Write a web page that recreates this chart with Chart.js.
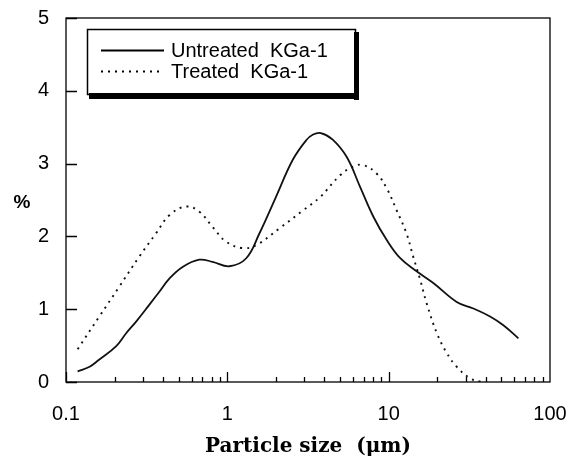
<!DOCTYPE html>
<html>
<head>
<meta charset="utf-8">
<script src="https://cdn.jsdelivr.net/npm/chart.js@4/dist/chart.umd.min.js"></script>
<style>
  html, body { margin: 0; padding: 0; background: #fff; }
  #wrap { width: 574px; height: 459px; }
</style>
</head>
<body>
<div id="wrap"><canvas id="psd" width="574" height="459"></canvas></div>
<script>
// particle size (um) and percentage
const untreatedSize = [0.118, 0.140, 0.161, 0.204, 0.236, 0.272, 0.328, 0.379, 0.437, 0.528, 0.67, 0.81, 1.03, 1.31, 1.58, 2.0, 2.54, 3.08, 3.4, 3.8, 4.5, 5.5, 6.65, 8.04, 9.73, 11.8, 14.9, 18.9, 26.4, 33.5, 42.5, 51.4, 63.7];
const untreatedPct  = [0.145, 0.21, 0.31, 0.49, 0.67, 0.83, 1.06, 1.24, 1.42, 1.58, 1.68, 1.65, 1.59, 1.70, 2.04, 2.54, 3.05, 3.32, 3.40, 3.42, 3.33, 3.09, 2.68, 2.27, 1.95, 1.70, 1.52, 1.36, 1.10, 1.01, 0.90, 0.78, 0.60];

const treatedSize = [0.118, 0.161, 0.214, 0.284, 0.361, 0.437, 0.554, 0.67, 0.81, 0.98, 1.24, 1.51, 2.10, 2.96, 3.76, 5.0, 6.04, 6.97, 8.44, 9.73, 11.2, 12.9, 14.2, 15.7, 17.2, 19.9, 22.9, 26.4, 32.0, 37.8];
const treatedPct  = [0.45, 0.90, 1.31, 1.72, 2.04, 2.29, 2.41, 2.34, 2.13, 1.93, 1.84, 1.88, 2.11, 2.36, 2.54, 2.84, 2.96, 2.98, 2.86, 2.66, 2.36, 2.04, 1.72, 1.40, 1.08, 0.67, 0.40, 0.21, 0.05, 0.0];

const xTickValues = [0.1, 1, 10, 100];
const xTickLabels = ["0.1", "1", "10", "100"];
const yTickValues = [0, 1, 2, 3, 4, 5];

const seriesNames = ["Untreated  KGa-1", "Treated  KGa-1"];

const sans = "'Liberation Sans', Arial, sans-serif";

function toPoints(xs, ys) {
  return xs.map((x, i) => ({ x: x, y: ys[i] }));
}

// frame, inward ticks, "%" label and the boxed legend
const decorPlugin = {
  id: "decor",
  afterDatasetsDraw(chart) {
    const ctx = chart.ctx;
    const a = chart.chartArea;
    const xs = chart.scales.x, ys = chart.scales.y;
    ctx.save();
    ctx.strokeStyle = "#000";
    ctx.lineWidth = 1.3;
    ctx.strokeRect(a.left, a.top, a.right - a.left, a.bottom - a.top);

    // y ticks
    ctx.beginPath();
    yTickValues.forEach(v => {
      const py = Math.round(ys.getPixelForValue(v)) + 0.5;
      ctx.moveTo(a.left, py);
      ctx.lineTo(a.left + 11, py);
    });
    // x ticks: long at decades, short in between
    for (let d = -1; d <= 1; d++) {
      for (let m = 1; m <= 9; m++) {
        const v = m * Math.pow(10, d);
        const px = Math.round(xs.getPixelForValue(v)) + 0.5;
        const len = m === 1 ? 10 : 5;
        ctx.moveTo(px, a.bottom);
        ctx.lineTo(px, a.bottom - len);
      }
    }
    ctx.stroke();

    // "%" axis label
    ctx.fillStyle = "#000";
    ctx.font = "bold 19px " + sans;
    ctx.textAlign = "center";
    ctx.textBaseline = "middle";
    ctx.fillText("%", 22, ys.getPixelForValue(2.46));

    // legend box with drop shadow
    const bx = 87, by = 29, bw = 268, bh = 65;
    ctx.fillStyle = "#fff";
    ctx.fillRect(bx, by, bw, bh);
    ctx.fillStyle = "#000";
    ctx.fillRect(bx + bw - 1, by + 3, 5, bh + 3);
    ctx.fillRect(bx + 2, by + bh - 1, bw + 2, 6);
    ctx.lineWidth = 1.5;
    ctx.strokeRect(bx + 0.5, by + 0.5, bw, bh);

    ctx.font = "20px " + sans;
    ctx.textAlign = "left";
    const rows = [50.5, 71.5];
    chart.data.datasets.forEach((ds, i) => {
      const ly = rows[i];
      ctx.beginPath();
      ctx.lineWidth = ds.borderWidth;
      ctx.setLineDash(ds.borderDash || []);
      ctx.moveTo(101, ly);
      ctx.lineTo(164, ly);
      ctx.stroke();
      ctx.setLineDash([]);
      ctx.fillText(ds.label, 171, ly + 1);
    });
    ctx.restore();
  }
};

const ctx = document.getElementById("psd").getContext("2d");

new Chart(ctx, {
  type: "line",
  data: {
    datasets: [
      {
        label: seriesNames[0],
        data: toPoints(untreatedSize, untreatedPct),
        borderColor: "#111",
        borderWidth: 1.8,
        pointRadius: 0,
        tension: 0.4,
        fill: false
      },
      {
        label: seriesNames[1],
        data: toPoints(treatedSize, treatedPct),
        borderColor: "#111",
        borderWidth: 1.9,
        borderDash: [2, 5],
        pointRadius: 0,
        tension: 0.4,
        fill: false
      }
    ]
  },
  options: {
    responsive: false,
    animation: false,
    layout: { padding: { top: 18, right: 24, left: 0, bottom: 0 } },
    plugins: {
      legend: { display: false },
      tooltip: { enabled: false }
    },
    scales: {
      x: {
        type: "logarithmic",
        min: 0.1,
        max: 100,
        afterBuildTicks: s => { s.ticks = xTickValues.map(v => ({ value: v })); },
        afterFit: s => {
          s.height = 77;
          s.paddingLeft = 0; s.paddingRight = 0;
        },
        grid: { display: false, drawTicks: false },
        border: { display: false },
        ticks: {
          padding: 20,
          color: "#000",
          font: { family: sans, size: 20 },
          maxRotation: 0,
          autoSkip: false,
          callback: (v) => {
            const i = xTickValues.indexOf(v);
            return i >= 0 ? xTickLabels[i] : "";
          }
        },
        title: {
          display: true,
          text: "Particle size  (\u03bcm)",
          color: "#000",
          font: { family: "'DejaVu Serif', serif", size: 20, weight: "bold", lineHeight: 1.2 },
          padding: { top: 0, bottom: 0 }
        }
      },
      y: {
        min: 0,
        max: 5,
        afterBuildTicks: s => { s.ticks = yTickValues.map(v => ({ value: v })); },
        afterFit: s => {
          s.width = 66;
          s.paddingTop = 0; s.paddingBottom = 0;
        },
        grid: { display: false, drawTicks: false },
        border: { display: false },
        ticks: {
          padding: 17,
          color: "#000",
          font: { family: sans, size: 20 }
        }
      }
    }
  },
  plugins: [decorPlugin]
});
</script>
</body>
</html>
